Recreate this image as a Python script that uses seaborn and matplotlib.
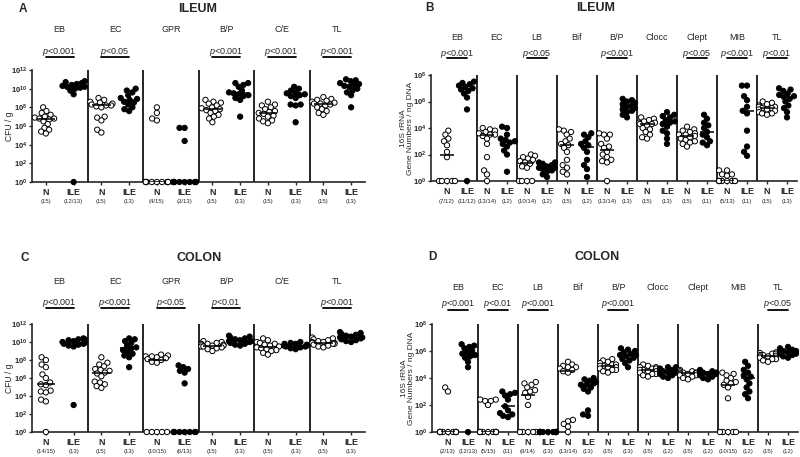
import numpy as np
import pandas as pd
import matplotlib
matplotlib.use("Agg")
import matplotlib.pyplot as plt
import matplotlib.transforms as mtransforms
from matplotlib.ticker import NullLocator
import seaborn as sns

sns.set_style("ticks")
plt.rcParams["font.family"] = ["Liberation Sans", "DejaVu Sans"]
plt.rcParams["mathtext.fontset"] = "custom"
plt.rcParams["mathtext.rm"] = "Liberation Sans"
plt.rcParams["mathtext.it"] = "Liberation Sans:italic"
plt.rcParams["mathtext.bf"] = "Liberation Sans:bold"

W, H = 800, 457

# DATA (log10 of value, 0 = not detected)
#-----------------------
# A: ileum, culture (CFU / g)
A_groups = ["EB", "EC", "GPR", "B/P", "C/E", "TL"]
A_N = [
    [8.0, 7.6, 7.4, 7.2, 7.0, 6.9, 6.8, 6.8, 6.7, 6.5, 6.2, 5.8, 5.6, 5.4, 5.2],
    [9.0, 8.8, 8.6, 8.5, 8.4, 8.3, 8.2, 8.2, 8.1, 8.0, 7.0, 6.9, 6.6, 5.6, 5.3],
    [8.0, 7.4, 6.8, 6.6, 0, 0, 0, 0, 0, 0, 0, 0, 0, 0, 0],
    [8.8, 8.6, 8.5, 8.4, 8.2, 8.0, 7.9, 7.8, 7.7, 7.6, 7.4, 7.2, 7.0, 6.8, 6.4],
    [8.6, 8.3, 8.2, 8.0, 7.8, 7.6, 7.5, 7.4, 7.3, 7.1, 7.0, 6.8, 6.6, 6.5, 6.3],
    [9.1, 8.9, 8.8, 8.7, 8.6, 8.5, 8.4, 8.4, 8.3, 8.2, 8.0, 7.8, 7.6, 7.4, 7.2],
]
A_ILE = [
    [10.8, 10.7, 10.6, 10.5, 10.4, 10.3, 10.2, 10.2, 10.1, 10.0, 9.8, 9.4, 0],
    [10.0, 9.8, 9.6, 9.3, 9.0, 8.9, 8.8, 8.6, 8.5, 8.3, 8.0, 7.8, 7.6],
    [5.8, 5.8, 4.4, 0, 0, 0, 0, 0, 0, 0, 0, 0, 0],
    [10.6, 10.6, 10.4, 10.2, 9.8, 9.6, 9.5, 9.4, 9.3, 9.2, 9.0, 8.8, 7.0],
    [10.2, 10.0, 9.8, 9.6, 9.5, 9.4, 9.3, 9.2, 9.0, 8.3, 8.2, 8.3, 6.4],
    [11.0, 10.9, 10.8, 10.6, 10.5, 10.4, 10.3, 10.2, 10.0, 9.8, 9.6, 9.3, 8.0],
]
A_counts = ["(15)", "(12/13)", "(15)", "(13)", "(4/15)", "(3/13)",
            "(15)", "(13)", "(15)", "(13)", "(15)", "(13)"]
A_p = ["p<0.001", "p<0.05", "", "p<0.001", "p<0.001", "p<0.001"]

# B: ileum, 16S rRNA gene numbers / ng DNA
B_groups = ["EB", "EC", "LB", "Bif", "B/P", "Clocc", "Clept", "MIB", "TL"]
B_N = [
    [3.8, 3.5, 3.2, 3.0, 2.7, 2.2, 1.8, 0, 0, 0, 0, 0],
    [4.0, 3.9, 3.8, 3.7, 3.6, 3.5, 3.5, 3.4, 3.2, 2.8, 1.8, 0.8, 0.5, 0],
    [2.0, 1.9, 1.8, 1.7, 1.6, 1.5, 1.4, 1.3, 1.1, 1.0, 0, 0, 0, 0],
    [3.9, 3.8, 3.7, 3.5, 3.2, 3.0, 2.8, 2.7, 2.5, 2.2, 1.6, 1.2, 1.0, 0.7, 0.5],
    [3.6, 3.5, 3.5, 3.2, 2.8, 2.6, 2.5, 2.2, 2.0, 1.8, 1.6, 1.5, 1.4, 0],
    [4.8, 4.7, 4.6, 4.5, 4.4, 4.4, 4.3, 4.3, 4.2, 4.0, 3.9, 3.7, 3.5, 3.3, 3.2],
    [4.1, 3.9, 3.8, 3.7, 3.6, 3.5, 3.5, 3.4, 3.3, 3.2, 3.1, 3.0, 2.9, 2.8, 2.6],
    [0.8, 0.8, 0.5, 0.5, 0.4, 0, 0, 0, 0, 0, 0, 0, 0],
    [6.0, 5.9, 5.8, 5.7, 5.6, 5.6, 5.5, 5.5, 5.4, 5.4, 5.3, 5.2, 5.1, 5.1, 5.0],
]
B_ILE = [
    [7.5, 7.4, 7.3, 7.2, 7.1, 7.0, 6.9, 6.8, 6.6, 6.3, 5.4, 0],
    [4.1, 4.0, 3.5, 3.2, 3.1, 3.0, 2.9, 2.8, 2.6, 2.3, 2.0, 0.7],
    [1.4, 1.4, 1.3, 1.2, 1.1, 1.0, 1.0, 0.9, 0.8, 0.7, 0.5, 0.3],
    [3.6, 3.5, 3.3, 3.0, 2.8, 2.7, 2.5, 2.2, 1.6, 1.2, 0.9, 0.3],
    [6.2, 6.1, 6.0, 5.9, 5.8, 5.7, 5.6, 5.5, 5.4, 5.3, 5.2, 5.0, 4.8],
    [5.2, 5.0, 4.9, 4.8, 4.6, 4.5, 4.4, 4.3, 4.1, 3.8, 3.6, 3.2, 2.8],
    [5.0, 4.7, 4.4, 4.2, 4.0, 3.7, 3.5, 3.3, 3.0, 2.9, 2.7],
    [7.2, 7.2, 6.4, 6.1, 5.6, 5.3, 5.1, 3.8, 2.6, 2.2, 1.9],
    [7.0, 6.9, 6.8, 6.6, 6.5, 6.4, 6.35, 6.2, 6.0, 5.7, 5.5, 5.2, 4.8],
]
B_counts = ["(7/12)", "(11/12)", "(13/14)", "(12)", "(10/14)", "(12)", "(15)", "(12)",
            "(13/14)", "(13)", "(15)", "(13)", "(15)", "(11)", "(5/13)", "(11)", "(15)", "(13)"]
B_p = ["p<0.001", "", "p<0.05", "", "p<0.001", "", "p<0.05", "p<0.001", "p<0.01"]

# C: colon, culture (CFU / g)
C_groups = ["EB", "EC", "GPR", "B/P", "C/E", "TL"]
C_N = [
    [8.3, 8.0, 7.5, 7.2, 6.4, 6.0, 5.5, 5.3, 5.2, 4.6, 4.5, 4.4, 3.6, 3.4, 0],
    [8.3, 7.7, 7.5, 7.3, 7.0, 6.9, 6.8, 6.6, 6.5, 6.2, 5.6, 5.5, 5.3, 5.1, 4.9],
    [8.6, 8.5, 8.4, 8.4, 8.3, 8.2, 8.1, 8.0, 7.8, 7.7, 0, 0, 0, 0, 0],
    [10.1, 10.0, 9.9, 9.8, 9.8, 9.7, 9.7, 9.6, 9.6, 9.5, 9.5, 9.4, 9.3, 9.2, 9.0],
    [10.4, 10.2, 10.0, 9.9, 9.8, 9.7, 9.6, 9.5, 9.4, 9.3, 9.2, 9.1, 9.0, 8.8, 8.6],
    [10.5, 10.4, 10.3, 10.2, 10.1, 10.0, 10.0, 9.9, 9.9, 9.8, 9.8, 9.7, 9.6, 9.5, 9.4],
]
C_ILE = [
    [10.4, 10.3, 10.3, 10.2, 10.1, 10.0, 9.9, 9.8, 9.8, 9.7, 9.6, 9.5, 3.0],
    [10.4, 10.3, 10.1, 9.9, 9.6, 9.4, 9.3, 9.1, 8.9, 8.7, 8.5, 8.3, 7.2],
    [7.4, 7.2, 7.0, 6.8, 6.6, 5.4, 0, 0, 0, 0, 0, 0, 0],
    [10.7, 10.6, 10.5, 10.4, 10.3, 10.2, 10.1, 10.1, 10.0, 9.9, 9.8, 9.7, 9.6],
    [10.0, 9.9, 9.8, 9.8, 9.7, 9.6, 9.6, 9.6, 9.5, 9.5, 9.4, 9.3, 9.2],
    [11.1, 11.0, 10.9, 10.8, 10.7, 10.6, 10.5, 10.5, 10.4, 10.3, 10.2, 10.1, 10.0],
]
C_counts = ["(14/15)", "(13)", "(15)", "(13)", "(10/15)", "(6/13)",
            "(15)", "(13)", "(15)", "(13)", "(15)", "(13)"]
C_p = ["p<0.001", "p<0.001", "p<0.05", "p<0.01", "", "p<0.001"]

# D: colon, 16S rRNA gene numbers / ng DNA
D_groups = ["EB", "EC", "LB", "Bif", "B/P", "Clocc", "Clept", "MIB", "TL"]
D_N = [
    [3.3, 3.0, 0, 0, 0, 0, 0, 0, 0, 0, 0, 0, 0],
    [2.4, 2.4, 2.3, 2.3, 2.0, 0, 0, 0, 0, 0, 0, 0, 0, 0, 0],
    [3.7, 3.6, 3.5, 3.3, 3.1, 3.0, 2.9, 2.6, 2.0, 0, 0, 0, 0, 0],
    [5.2, 5.0, 4.9, 4.8, 4.8, 4.7, 4.6, 4.5, 4.4, 0.9, 0.8, 0.6, 0.4, 0],
    [5.4, 5.3, 5.2, 5.1, 5.0, 5.0, 4.9, 4.9, 4.8, 4.8, 4.7, 4.6, 4.6, 4.5, 4.4],
    [5.0, 4.9, 4.8, 4.8, 4.7, 4.7, 4.6, 4.6, 4.5, 4.5, 4.4, 4.3, 4.3, 4.2, 4.1],
    [4.6, 4.5, 4.5, 4.4, 4.4, 4.4, 4.35, 4.35, 4.3, 4.3, 4.2, 4.2, 4.1, 4.0, 3.9],
    [4.4, 4.3, 4.2, 4.0, 3.8, 3.7, 3.6, 3.5, 3.3, 2.5, 0, 0, 0, 0, 0],
    [5.9, 5.85, 5.8, 5.8, 5.7, 5.7, 5.65, 5.6, 5.6, 5.5, 5.5, 5.4, 5.4, 5.3, 5.2],
]
D_ILE = [
    [6.5, 6.4, 6.3, 6.2, 6.0, 5.9, 5.8, 5.7, 5.6, 5.5, 5.2, 4.8, 0],
    [3.0, 2.9, 2.8, 2.7, 2.4, 1.9, 1.6, 1.4, 1.3, 1.2, 1.1],
    [0, 0, 0, 0, 0, 0, 0, 0, 0, 0, 0, 0, 0],
    [4.0, 3.9, 3.8, 3.7, 3.6, 3.5, 3.5, 3.3, 3.2, 3.0, 1.6, 1.3, 1.2],
    [6.2, 6.1, 6.0, 5.9, 5.8, 5.7, 5.7, 5.6, 5.5, 5.4, 5.3, 5.1, 4.8],
    [4.8, 4.8, 4.7, 4.6, 4.5, 4.5, 4.4, 4.4, 4.3, 4.2, 4.1, 4.0],
    [4.6, 4.5, 4.5, 4.4, 4.4, 4.4, 4.3, 4.3, 4.2, 4.1, 4.0, 3.9],
    [5.2, 4.9, 4.6, 4.4, 4.2, 4.1, 3.9, 3.6, 3.3, 3.0, 2.8, 2.5],
    [6.3, 6.2, 6.1, 6.0, 6.0, 5.9, 5.9, 5.8, 5.8, 5.7, 5.6, 5.5],
]
D_counts = ["(2/13)", "(12/13)", "(5/15)", "(11)", "(9/14)", "(13)", "(13/14)", "(13)",
            "(15)", "(13)", "(15)", "(12)", "(15)", "(12)", "(10/15)", "(12)", "(15)", "(12)"]
D_p = ["p<0.001", "p<0.01", "p<0.001", "", "p<0.001", "", "", "", "p<0.05"]

SWARM_SIZE = 2.8   # marker size used for the swarm layout (lets dots overlap a bit)
DOT_SIZE = 3.8     # marker size actually drawn

swarm_colls = []


def fy(px):
    return 1 - px / H


# DRAW ONE PANEL
#-----------------------
def draw_panel(fig, box, xlim, ytop, groups, n_vals, ile_vals, counts, pvals, ylab_y, p_y, bar_y, count_y):
    left, top, right, bottom = box
    ax = fig.add_axes([left / W, fy(bottom), (right - left) / W, (bottom - top) / H])
    ax.set_yscale("log")

    rows, order = [], []
    for g, nv, iv in zip(groups, n_vals, ile_vals):
        order += [g + "|N", g + "|ILE"]
        rows += [(g + "|N", "N", 10.0 ** v) for v in nv]
        rows += [(g + "|ILE", "ILE", 10.0 ** v) for v in iv]
    df = pd.DataFrame(rows, columns=["cat", "grp", "val"])

    sns.boxplot(data=df, x="cat", y="val", order=order, width=0.66,
                showbox=False, showcaps=False, showfliers=False,
                whiskerprops={"visible": False},
                medianprops={"color": "black", "linewidth": 1.1, "zorder": 5}, ax=ax)
    n_before = len(ax.collections)
    sns.swarmplot(data=df, x="cat", y="val", order=order, hue="grp",
                  palette={"N": "white", "ILE": "black"}, edgecolor="black",
                  linewidth=0.7, size=SWARM_SIZE, legend=False, warn_thresh=1, ax=ax)
    for coll in ax.collections[n_before:]:
        coll.set_clip_on(False)
        coll.set_zorder(3)
        swarm_colls.append(coll)

    for i in range(1, len(groups)):
        ax.axvline(2 * i - 0.5, color="black", lw=1.2, zorder=1)

    ax.set_xlim(*xlim)
    ax.set_ylim(1, 10.0 ** ytop)
    ax.set_yticks([10.0 ** k for k in range(0, ytop + 1, 2)])
    ax.set_yticklabels([r"$\mathbf{10^{%d}}$" % k for k in range(0, ytop + 1, 2)], fontsize=5.5)
    ax.yaxis.set_minor_locator(NullLocator())
    ax.set_xticks(range(len(order)))
    ax.set_xticklabels(["N", "ILE"] * len(groups), fontsize=6.5, fontweight="bold")
    ax.tick_params(axis="x", length=2.5, width=1, pad=2)
    ax.tick_params(axis="y", length=2.5, width=1, pad=1)
    ax.set_xlabel("")
    ax.set_ylabel("")
    sns.despine(ax=ax)
    for s in ["left", "bottom"]:
        ax.spines[s].set_linewidth(1.2)

    trans = mtransforms.blended_transform_factory(ax.transData, fig.transFigure)
    for i, c in enumerate(counts):
        ax.text(i, fy(count_y), c, transform=trans, ha="center", va="center", fontsize=4.3)
    for i, g in enumerate(groups):
        ax.text(2 * i + 0.5, fy(ylab_y), g, transform=trans, ha="center", va="center", fontsize=6.5)
        if pvals[i]:
            txt = "$p$" + pvals[i][1:]
            ax.text(2 * i + 0.5, fy(p_y), txt, transform=trans, ha="center", va="center", fontsize=6.5)
            ax.plot([2 * i, 2 * i + 1], [fy(bar_y), fy(bar_y)], transform=trans,
                    color="black", lw=1.3, clip_on=False)
    return ax


fig = plt.figure(figsize=(8, 4.57), dpi=100)

draw_panel(fig, (32, 70, 365, 182), (-0.5, 11.5), 12, A_groups, A_N, A_ILE, A_counts, A_p,
           29, 52, 57, 202)
draw_panel(fig, (431, 75, 797, 181), (-0.8, 17.5), 8, B_groups, B_N, B_ILE, B_counts, B_p,
           37, 54, 58, 202)
draw_panel(fig, (32, 324, 365, 432), (-0.5, 11.5), 12, C_groups, C_N, C_ILE, C_counts, C_p,
           282, 303, 308, 451)
draw_panel(fig, (432, 324, 798, 432), (-0.8, 17.5), 8, D_groups, D_N, D_ILE, D_counts, D_p,
           287, 304, 310, 451)

# panel letters and titles
for letter, x, y in [("A", 23, 9), ("B", 430, 8), ("C", 25, 258), ("D", 432, 257)]:
    fig.text(x / W, fy(y), letter, ha="center", va="center", fontsize=8.5, fontweight="bold")
for title, x, y in [("ILEUM", 198, 9), ("ILEUM", 596, 8), ("COLON", 199, 258), ("COLON", 597, 257)]:
    fig.text(x / W, fy(y), title, ha="center", va="center", fontsize=9, fontweight="bold")

# y labels
fig.text(9 / W, fy(126), "CFU / g", rotation=90, ha="center", va="center", fontsize=6.2)
fig.text(9 / W, fy(378), "CFU / g", rotation=90, ha="center", va="center", fontsize=6.2)
fig.text(407 / W, fy(128), "16S rRNA\nGene Numbers / ng DNA", rotation=90, ha="center",
         va="center", fontsize=6, multialignment="center", linespacing=1.0)
fig.text(408 / W, fy(378), "16S rRNA\nGene Numbers / ng DNA", rotation=90, ha="center",
         va="center", fontsize=6, multialignment="center", linespacing=1.0)

# lay out the swarms once, then keep those positions and draw bigger dots
fig.canvas.draw()
for coll in swarm_colls:
    if "draw" in coll.__dict__:
        del coll.draw
    coll.set_sizes([DOT_SIZE ** 2])

fig.savefig("out.png", dpi=100)
